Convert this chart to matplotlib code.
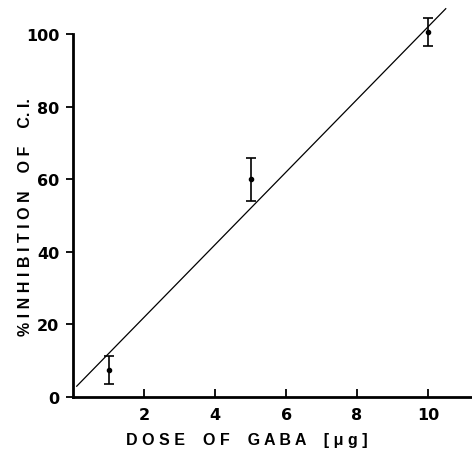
import matplotlib
matplotlib.use('Agg')
import matplotlib.pyplot as plt
import numpy as np

# data
dose = [1, 5, 10]
inhibition = [7.5, 60, 100.5]
err = [3.8, 6, 3.9]
fit_x = [0.1, 10.5]
fit_slope = 10.0
fit_int = 2.0

plt.rcParams['font.family'] = ['DejaVu Sans']
fig = plt.figure(figsize=(4.72, 4.56), dpi=100)
ax = fig.add_axes([0.155, 0.127, 0.845, 0.796])

fx = np.array(fit_x)
ax.plot(fx, fit_slope * fx + fit_int, '-', color='black', lw=0.9, clip_on=False)
ax.errorbar(dose, inhibition, yerr=err, fmt='o', ms=3, color='black',
            ecolor='black', elinewidth=1.2, capsize=3.5, capthick=1.2, clip_on=False)

ax.set_xlim(0, 11.24)
ax.set_ylim(0, 100)
ax.set_xticks([2, 4, 6, 8, 10])
ax.set_yticks([0, 20, 40, 60, 80, 100])
for s in ['top', 'right']:
    ax.spines[s].set_visible(False)
for s in ['left', 'bottom']:
    ax.spines[s].set_linewidth(2)
ax.tick_params(axis='x', direction='in', length=6, width=1.3, pad=7, labelsize=11.5)
ax.tick_params(axis='y', direction='out', length=5, width=1.3, pad=5, labelsize=11.5)
for t in ax.get_xticklabels() + ax.get_yticklabels():
    t.set_fontweight('bold')

lab_font = ['Liberation Sans', 'DejaVu Sans']
ax.set_xlabel('D O S E    O F    G A B A    [ μ g ]', fontsize=11.5, fontweight='bold', family=lab_font)
ax.xaxis.set_label_coords(0.435, -0.095)
ax.set_ylabel('% I N H I B I T I O N    O F    C. I.', fontsize=11.5, fontweight='bold', family=lab_font)
ax.yaxis.set_label_coords(-0.10, 0.5)

fig.savefig('out.png', dpi=100)
